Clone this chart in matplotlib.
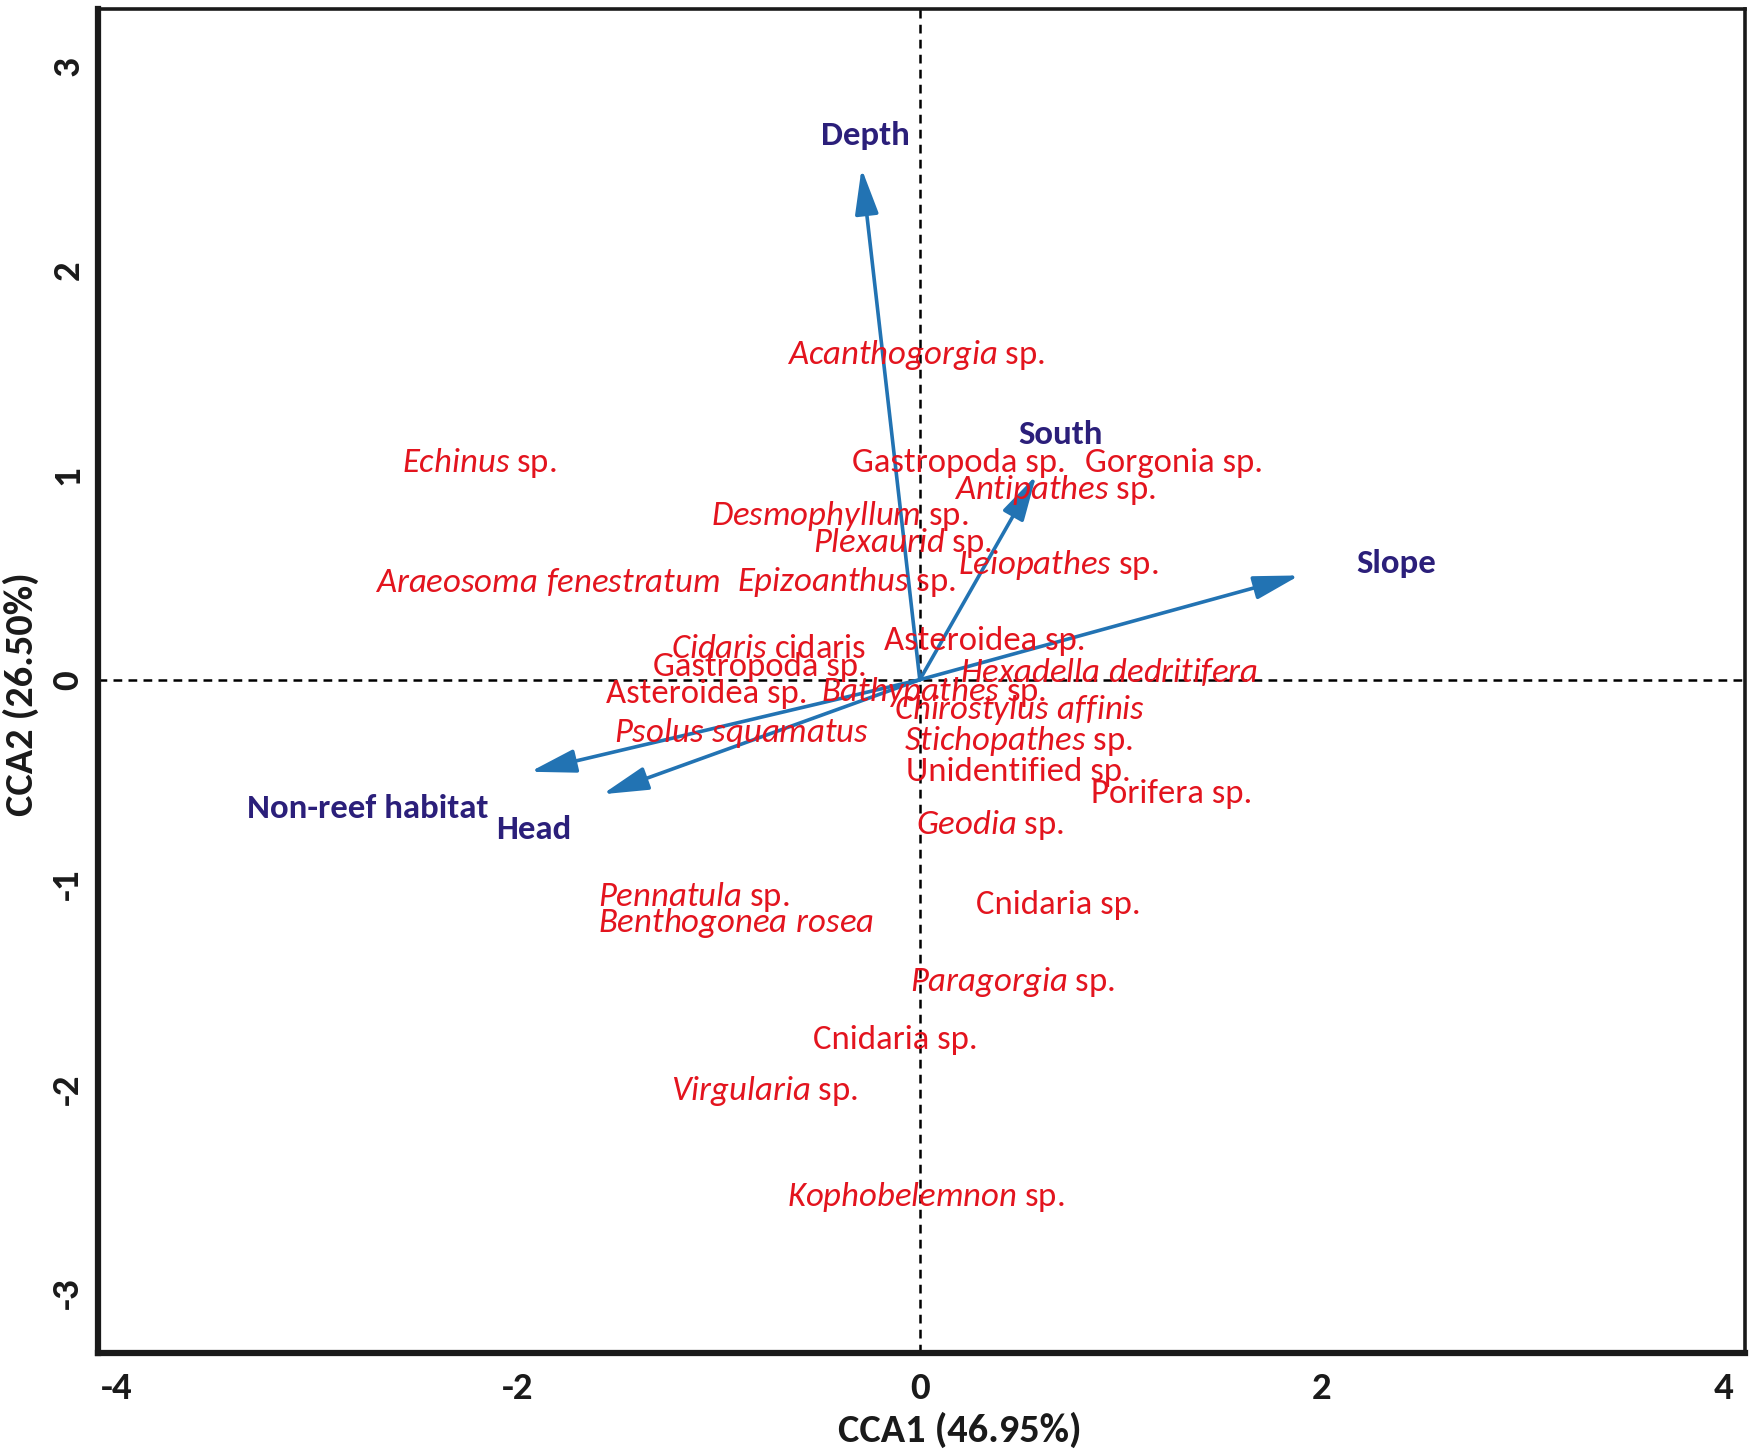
import matplotlib
matplotlib.use("Agg")
import matplotlib.pyplot as plt
from matplotlib import font_manager as fm

# Calibri-like face if present, otherwise Lato
installed = {f.name for f in fm.fontManager.ttflist}
base = 'Carlito' if 'Carlito' in installed else 'Lato'

plt.rcParams['font.family'] = [base, 'DejaVu Sans']
plt.rcParams['mathtext.fontset'] = 'custom'
plt.rcParams['mathtext.rm'] = base
plt.rcParams['mathtext.it'] = base + ':italic'

# species scores (CCA1, CCA2) - labels are anchored at their left edge
sp_names = [
    r'$\mathit{Acanthogorgia}$ sp.', r'$\mathit{Echinus}$ sp.', 'Gastropoda sp.', 'Gorgonia sp.',
    r'$\mathit{Antipathes}$ sp.', r'$\mathit{Desmophyllum}$ sp.', r'$\mathit{Plexaurid}$ sp.',
    r'$\mathit{Araeosoma\ fenestratum}$', r'$\mathit{Epizoanthus}$ sp.', r'$\mathit{Leiopathes}$ sp.',
    r'$\mathit{Cidaris}$ cidaris', 'Asteroidea sp.', 'Gastropoda sp.', r'$\mathit{Hexadella\ dedritifera}$',
    'Asteroidea sp.', r'$\mathit{Bathypathes}$ sp.', r'$\mathit{Chirostylus\ affinis}$',
    r'$\mathit{Psolus\ squamatus}$', r'$\mathit{Stichopathes}$ sp.', 'Unidentified sp.', 'Porifera sp.',
    r'$\mathit{Geodia}$ sp.', r'$\mathit{Pennatula}$ sp.', r'$\mathit{Benthogonea\ rosea}$',
    'Cnidaria sp.', r'$\mathit{Paragorgia}$ sp.', 'Cnidaria sp.', r'$\mathit{Virgularia}$ sp.',
    r'$\mathit{Kophobelemnon}$ sp.',
]
sp_x = [-0.66, -2.58, -0.34, 0.82, 0.17, -1.04, -0.53, -2.71, -0.91, 0.19,
        -1.24, -0.18, -1.33, 0.20, -1.56, -0.49, -0.13, -1.52, -0.08, -0.07, 0.85,
        -0.02, -1.60, -1.60, 0.28, -0.05, -0.53, -1.24, -0.66]
sp_y = [1.59, 1.06, 1.06, 1.06, 0.93, 0.80, 0.67, 0.48, 0.48, 0.56,
        0.15, 0.19, 0.06, 0.04, -0.07, -0.06, -0.15, -0.26, -0.30, -0.45, -0.56,
        -0.71, -1.06, -1.19, -1.10, -1.48, -1.76, -2.01, -2.53]

# environmental vectors (arrow tips) and label positions
env_names = ['Depth', 'South', 'Slope', 'Non-reef habitat', 'Head']
env_x = [-0.29, 0.58, 1.89, -1.94, -1.58]
env_y = [2.50, 1.00, 0.51, -0.45, -0.56]
env_lx = [-0.27, 0.70, 2.37, -2.75, -1.92]
env_ly = [2.66, 1.20, 0.57, -0.63, -0.73]

red = '#e3141e'
navy = '#2b1f7a'
blue = '#2273b3'
dark = '#1a1a1a'

fig = plt.figure(figsize=(17.51, 14.56), dpi=100)
ax = fig.add_axes([0.0561, 0.071, 0.9407, 0.9229])
ax.set_xlim(-4.09, 4.11)
ax.set_ylim(-3.29, 3.28)

ax.axhline(0, color='black', lw=1.8, ls=(0, (3.5, 2.5)), zorder=1)
ax.axvline(0, color='black', lw=1.8, ls=(0, (3.5, 2.5)), zorder=1)

for x, y in zip(env_x, env_y):
    ax.annotate('', xy=(x, y), xytext=(0, 0),
                arrowprops=dict(arrowstyle='-|>,head_length=1.4,head_width=0.36',
                                color=blue, lw=2.6, mutation_scale=20, shrinkA=0, shrinkB=0),
                zorder=3)

for name, x, y in zip(sp_names, sp_x, sp_y):
    ax.text(x, y, name, color=red, fontsize=25, ha='left', va='center', zorder=4)

for name, x, y in zip(env_names, env_lx, env_ly):
    ax.text(x, y, name, color=navy, fontsize=25, fontweight='bold', ha='center', va='center', zorder=4)

ax.set_xticks([-4, -2, 0, 2, 4])
ax.set_yticks([-3, -2, -1, 0, 1, 2, 3])
ax.set_xticklabels(['-4', '-2', '0', '2', '4'])
ax.set_yticklabels(['-3', '-2', '-1', '0', '1', '2', '3'], rotation=90, va='center')
ax.tick_params(length=0)
ax.tick_params(axis='x', pad=14)
ax.tick_params(axis='y', pad=10)
for lab in ax.get_xticklabels() + ax.get_yticklabels():
    lab.set_fontweight('bold')
    lab.set_fontsize(28)
    lab.set_color(dark)

ax.set_xlabel('CCA1 (46.95%)', fontweight='bold', fontsize=29, color=dark)
ax.set_ylabel('CCA2 (26.50%)', fontweight='bold', fontsize=29, color=dark)
ax.xaxis.set_label_coords(0.523, -0.044)
ax.yaxis.set_label_coords(-0.036, 0.49)

for side in ['left', 'bottom']:
    ax.spines[side].set_linewidth(4.5)
for side in ['top', 'right']:
    ax.spines[side].set_linewidth(2.6)
for s in ax.spines.values():
    s.set_color(dark)

fig.savefig('out.png', dpi=100)
